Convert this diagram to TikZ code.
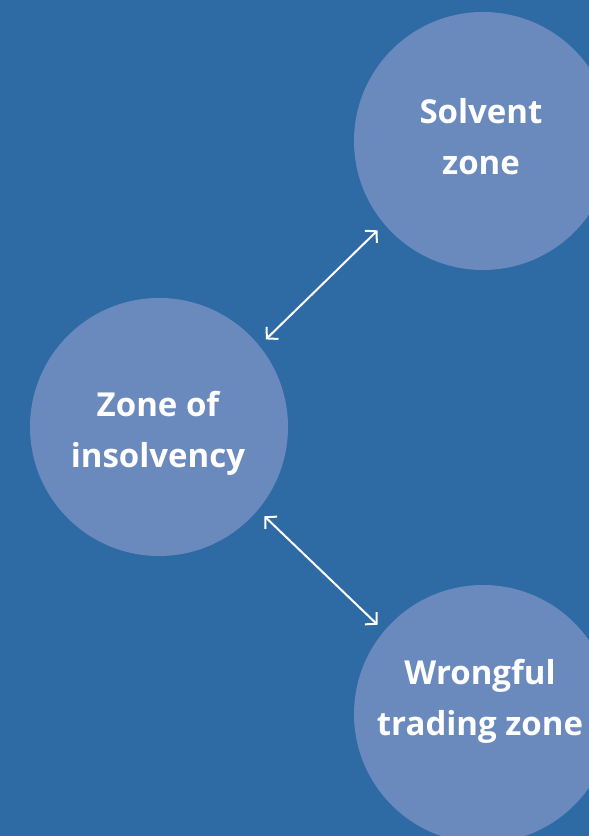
\documentclass[tikz,border=0pt]{standalone}
\usepackage{fontspec}
\setmainfont{Open Sans}
\usetikzlibrary{arrows.meta}
\definecolor{bgblue}{RGB}{46,106,164}
\definecolor{circblue}{RGB}{106,138,190}
\begin{document}
\begin{tikzpicture}[x=1pt,y=1pt,
  zone/.style={circle, fill=circblue, minimum size=258pt, inner sep=0pt},
  zonetext/.style={text=white, align=center, inner sep=0pt,
    font=\bfseries\fontsize{33}{51}\selectfont},
  link/.style={draw=white, line width=2pt,
    {Straight Barb[length=8pt,width=17pt]}-{Straight Barb[length=8pt,width=17pt]},
    shorten <=9pt, shorten >=9pt}]
\useasboundingbox (0,0) rectangle (589,836);
\clip (0,0) rectangle (589,836);
\fill[bgblue] (0,0) rectangle (589,836);
\node[zone] (sol) at (483,695) {};
\node[zone] (ins) at (159,409) {};
\node[zone] (wr) at (483,122) {};
\node[zonetext] (soltext) at (481,697.4) {Solvent\strut\\zone\strut};
\node[zonetext] (instext) at (158,404) {Zone of\strut\\insolvency\strut};
\node[zonetext] (wrtext) at (480,136.4) {Wrongful\strut\\trading zone\strut};
\draw[link] (ins.39) -- (sol.220);
\draw[link] (ins.-40) -- (wr.140);
\end{tikzpicture}
\end{document}
